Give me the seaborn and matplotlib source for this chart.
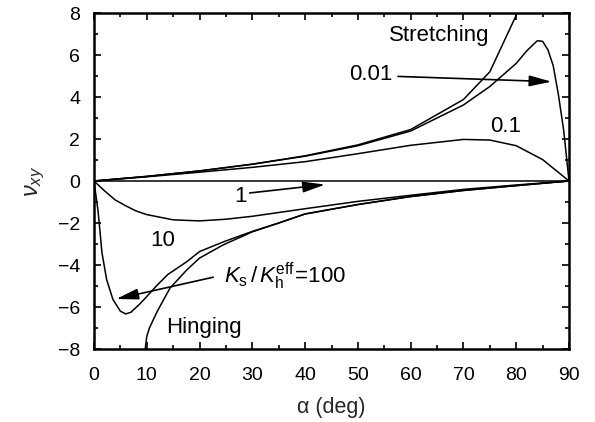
import numpy as np
import pandas as pd
import matplotlib
matplotlib.use('Agg')
import matplotlib.pyplot as plt
from matplotlib.ticker import MultipleLocator
import seaborn as sns

# ---- data ----
alpha_stretch = [0, 10, 20, 30, 40, 50, 60, 70, 75, 80.2]
nu_stretch = [0, 0.22, 0.48, 0.8, 1.2, 1.72, 2.45, 3.88, 5.2, 8.0]

alpha_001 = [0, 10, 20, 30, 40, 50, 60, 70, 75, 80, 82, 84, 85, 86, 87, 88, 89, 90]
nu_001 = [0, 0.22, 0.48, 0.8, 1.18, 1.68, 2.38, 3.62, 4.5, 5.6, 6.2, 6.68, 6.65, 6.25, 5.5, 4.1, 2.4, 0]

alpha_01 = [0, 10, 20, 30, 40, 50, 60, 70, 75, 80, 85, 90]
nu_01 = [0, 0.2, 0.42, 0.65, 0.92, 1.3, 1.7, 1.98, 1.95, 1.68, 1.02, 0]

alpha_1 = [0, 90]
nu_1 = [0, 0]

alpha_10 = [0, 2, 4, 6, 8, 10, 15, 20, 25, 30, 40, 50, 60, 70, 80, 90]
nu_10 = [0, -0.47, -0.9, -1.18, -1.43, -1.6, -1.85, -1.9, -1.82, -1.68, -1.32, -0.97, -0.68, -0.4, -0.19, 0]

alpha_100 = [0, 0.8, 1.5, 2.4, 3.6, 5, 6, 7, 8.7, 10, 12, 14, 17.6, 20, 24.5, 30, 35, 40, 50, 60, 70, 80, 90]
nu_100 = [0, -1.5, -3.4, -4.7, -5.65, -6.2, -6.33, -6.25, -5.85, -5.5, -4.95, -4.45, -3.84, -3.36, -2.9,
          -2.4, -2.0, -1.57, -1.12, -0.74, -0.45, -0.22, 0]

alpha_hinge = [9.5, 9.7, 10, 10.5, 12, 14.4, 17.6, 20, 24.5, 30, 35, 40, 50, 60, 70, 80, 90]
nu_hinge = [-8.6, -8.0, -7.4, -7.0, -6.2, -5.1, -4.23, -3.67, -3.04, -2.42, -2.0, -1.57, -1.12, -0.74,
            -0.45, -0.22, 0]

x_ticks = [0, 10, 20, 30, 40, 50, 60, 70, 80, 90]
y_ticks = [-8, -6, -4, -2, 0, 2, 4, 6, 8]

series = {
    'Stretching': (alpha_stretch, nu_stretch),
    '0.01': (alpha_001, nu_001),
    '0.1': (alpha_01, nu_01),
    '1': (alpha_1, nu_1),
    '10': (alpha_10, nu_10),
    '100': (alpha_100, nu_100),
    'Hinging': (alpha_hinge, nu_hinge),
}

sns.set_theme(style='ticks')
plt.rcParams['font.family'] = ['Liberation Sans', 'DejaVu Sans']
plt.rcParams['mathtext.fontset'] = 'custom'
plt.rcParams['mathtext.rm'] = 'Liberation Sans'
plt.rcParams['mathtext.it'] = 'Liberation Sans:italic'
plt.rcParams['mathtext.bf'] = 'Liberation Sans:bold'

fig = plt.figure(figsize=(5.95, 4.22), dpi=100)
ax = fig.add_axes([94 / 595, 1 - 349 / 422, (569 - 94) / 595, (349 - 13) / 422])

for name, (a, v) in series.items():
    df = pd.DataFrame({'alpha': a, 'nu': v})
    sns.lineplot(data=df, x='alpha', y='nu', ax=ax, color='black', lw=1.1,
                 sort=False, estimator=None)

ax.set_xlim(0, 90)
ax.set_ylim(-8, 8)
ax.set_xticks(x_ticks)
ax.set_yticks(y_ticks)
ax.set_xticklabels([str(t) for t in x_ticks])
ax.set_yticklabels([str(t).replace('-', '\u2212') for t in y_ticks])
ax.xaxis.set_minor_locator(MultipleLocator(5))
ax.yaxis.set_minor_locator(MultipleLocator(1))
ax.tick_params(which='both', direction='in', top=True, right=True, width=1.2,
               labelsize=14, colors='black')
ax.tick_params(which='major', length=5)
ax.tick_params(which='minor', length=3)
ax.tick_params(axis='x', which='major', pad=13)
ax.tick_params(axis='y', which='major', pad=10)
for s in ax.spines.values():
    s.set_linewidth(1.8)
    s.set_color('black')

ax.set_xlabel('\u03b1 (deg)', fontsize=15.5, labelpad=9)
ax.set_ylabel(r'$\nu_{xy}$', fontsize=17, labelpad=8)

tk = dict(fontsize=16, ha='center', va='center', color='black')
ax.text(65.5, 6.91, 'Stretching', **tk)
ax.text(52.5, 5.05, '0.01', **tk)
ax.text(78, 2.6, '0.1', **tk)
ax.text(27.7, -0.74, '1', **tk)
ax.text(13.1, -2.85, '10', **tk)
ax.text(20.8, -6.96, 'Hinging', **tk)
ax.text(24.6, -4.55, r'$K_{\mathrm{s}}\,/\,K_{\mathrm{h}}^{\mathrm{eff}}\!=\!100$', fontsize=16,
        ha='left', va='center', color='black')

ap = dict(arrowstyle='-|>,head_length=0.9,head_width=0.22', color='black', lw=1.2,
          shrinkA=0, shrinkB=0, mutation_scale=15)
ax.annotate('', xy=(86.7, 4.73), xytext=(57.6, 4.98), arrowprops=ap)
ax.annotate('', xy=(43.8, -0.17), xytext=(29.5, -0.57), arrowprops=ap)
ax.annotate('', xy=(4.2, -5.62), xytext=(22.6, -4.58), arrowprops=ap)

fig.savefig('out.png', dpi=100, facecolor='white')
